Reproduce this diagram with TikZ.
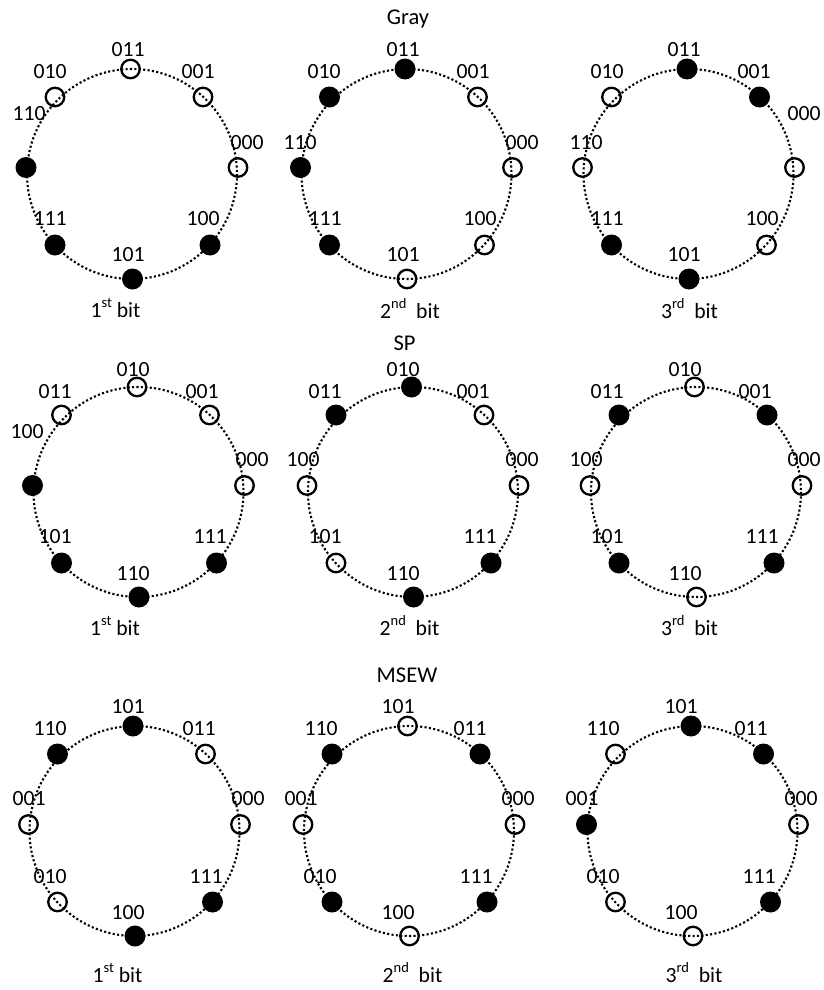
\documentclass[tikz,border=0pt]{standalone}
\usepackage{fontspec}
\setmainfont{Carlito}
\newcommand\sups[1]{\raisebox{0.42em}{\fontsize{14.5}{15}\selectfont #1}}
\tikzset{
  ringline/.style={line width=2.1pt, dash pattern=on 2.1pt off 2.3pt},
  full/.style={circle, fill=black, minimum size=21pt, inner sep=0pt},
  hollow/.style={circle, draw=black, line width=2.3pt, minimum size=18.5pt, inner sep=0pt},
  lab/.style={inner sep=0pt, font=\fontsize{21.7}{26}\selectfont},
  ttl/.style={inner sep=0pt, anchor=base, font=\fontsize{22.5}{27}\selectfont},
  bitlab/.style={inner sep=0pt, anchor=base, font=\fontsize{21.7}{26}\selectfont},
}
\newcommand\wheel[7]{%
  \begin{scope}[shift={(#2,#3)}]
    \draw[ringline] (0,0) circle[radius=105];
    \node[#4] (#1T) at (-1.5,-105) {};
    \node[#5] (#1UR) at (71,-77) {};
    \node[#6] (#1R) at (106,-6.5) {};
    \node[#7] (#1LR) at (78,71) {};
  \end{scope}}
\newcommand\wheelb[6]{%
  \begin{scope}[shift={(#2,#3)}]
    \node[#4] (#1B) at (0.5,105) {};
    \node[#5] (#1LL) at (-77,71) {};
    \node[#6] (#1L) at (-106,-6.5) {};
  \end{scope}}
\newcommand\wheelc[4]{%
  \begin{scope}[shift={(#2,#3)}]
    \node[#4] (#1UL) at (-77,-77) {};
  \end{scope}}
\begin{document}
\begin{tikzpicture}[x=1pt,y=-1pt]
\useasboundingbox (0,0) rectangle (823,990);

% ---------------- Gray ----------------
\node[ttl] (tgray) at (408,25) {Gray};
\wheel{a1}{132}{174}{hollow}{hollow}{hollow}{full}
\wheelb{a1}{132}{174}{full}{full}{full}
\wheelc{a1}{132}{174}{hollow}
\wheel{a2}{406.5}{174}{full}{hollow}{hollow}{hollow}
\wheelb{a2}{406.5}{174}{hollow}{full}{full}
\wheelc{a2}{406.5}{174}{full}
\wheel{a3}{688.5}{174}{full}{full}{hollow}{hollow}
\wheelb{a3}{688.5}{174}{full}{full}{hollow}
\wheelc{a3}{688.5}{174}{hollow}

\node[lab] (a1tT) at (128,50) {011};
\node[lab] (a1tUR) at (198,72) {001};
\node[lab] (a1tR) at (247,143) {000};
\node[lab] (a1tLR) at (203,219) {100};
\node[lab] (a1tB) at (128,255) {101};
\node[lab] (a1tLL) at (50,219) {111};
\node[lab] (a1tL) at (29,114) {110};
\node[lab] (a1tUL) at (50,72) {010};

\node[lab] (a2tT) at (403,50) {011};
\node[lab] (a2tUR) at (473,72) {001};
\node[lab] (a2tR) at (522,143) {000};
\node[lab] (a2tLR) at (480,219) {100};
\node[lab] (a2tB) at (403,255) {101};
\node[lab] (a2tLL) at (325,219) {111};
\node[lab] (a2tL) at (300,143) {110};
\node[lab] (a2tUL) at (324,72) {010};

\node[lab] (a3tT) at (684,50) {011};
\node[lab] (a3tUR) at (754,72) {001};
\node[lab] (a3tR) at (804,114) {000};
\node[lab] (a3tLR) at (762,219) {100};
\node[lab] (a3tB) at (684,255) {101};
\node[lab] (a3tLL) at (607,219) {111};
\node[lab] (a3tL) at (586,143) {110};
\node[lab] (a3tUL) at (607,72) {010};

\node[bitlab] (a1bit) at (115.5,317) {1\sups{st} bit};
\node[bitlab] (a2bit) at (410,318) {2\sups{nd}~~bit};
\node[bitlab] (a3bit) at (689.5,318) {3\sups{rd}~~bit};

% ---------------- SP ----------------
\node[ttl] (tsp) at (404.5,350) {SP};
\wheel{b1}{138.5}{492}{hollow}{hollow}{hollow}{full}
\wheelb{b1}{138.5}{492}{full}{full}{full}
\wheelc{b1}{138.5}{492}{hollow}
\wheel{b2}{413}{492}{full}{hollow}{hollow}{full}
\wheelb{b2}{413}{492}{full}{hollow}{hollow}
\wheelc{b2}{413}{492}{full}
\wheel{b3}{696}{492}{hollow}{full}{hollow}{full}
\wheelb{b3}{696}{492}{hollow}{full}{hollow}
\wheelc{b3}{696}{492}{full}

\node[lab] (b1tT) at (133,370) {010};
\node[lab] (b1tUR) at (202,392) {001};
\node[lab] (b1tR) at (252,460) {000};
\node[lab] (b1tLR) at (210,537) {111};
\node[lab] (b1tB) at (133,574) {110};
\node[lab] (b1tLL) at (55,537) {101};
\node[lab] (b1tL) at (27,432) {100};
\node[lab] (b1tUL) at (55,392) {011};

\node[lab] (b2tT) at (403,370) {010};
\node[lab] (b2tUR) at (473,392) {001};
\node[lab] (b2tR) at (522,460) {000};
\node[lab] (b2tLR) at (480,537) {111};
\node[lab] (b2tB) at (403,574) {110};
\node[lab] (b2tLL) at (325,537) {101};
\node[lab] (b2tL) at (303,460) {100};
\node[lab] (b2tUL) at (325,392) {011};

\node[lab] (b3tT) at (685,370) {010};
\node[lab] (b3tUR) at (755,392) {001};
\node[lab] (b3tR) at (804,460) {000};
\node[lab] (b3tLR) at (762,537) {111};
\node[lab] (b3tB) at (685,574) {110};
\node[lab] (b3tLL) at (607,537) {101};
\node[lab] (b3tL) at (586,460) {100};
\node[lab] (b3tUL) at (607,392) {011};

\node[bitlab] (b1bit) at (115,635) {1\sups{st} bit};
\node[bitlab] (b2bit) at (409.5,635) {2\sups{nd}~~bit};
\node[bitlab] (b3bit) at (689.5,635) {3\sups{rd}~~bit};

% ---------------- MSEW ----------------
\node[ttl] (tmsew) at (407,682) {MSEW};
\wheel{c1}{134.5}{831}{full}{hollow}{hollow}{full}
\wheelb{c1}{134.5}{831}{full}{hollow}{hollow}
\wheelc{c1}{134.5}{831}{full}
\wheel{c2}{409}{831}{hollow}{full}{hollow}{full}
\wheelb{c2}{409}{831}{hollow}{full}{hollow}
\wheelc{c2}{409}{831}{full}
\wheel{c3}{692.5}{831}{full}{full}{hollow}{full}
\wheelb{c3}{692.5}{831}{hollow}{hollow}{full}
\wheelc{c3}{692.5}{831}{hollow}

\node[lab] (c1tT) at (128,707) {101};
\node[lab] (c1tUR) at (199,729) {011};
\node[lab] (c1tR) at (248,799) {000};
\node[lab] (c1tLR) at (206,877) {111};
\node[lab] (c1tB) at (128,913) {100};
\node[lab] (c1tLL) at (50,877) {010};
\node[lab] (c1tL) at (29,799) {001};
\node[lab] (c1tUL) at (50,729) {110};

\node[lab] (c2tT) at (398,707) {101};
\node[lab] (c2tUR) at (470,729) {011};
\node[lab] (c2tR) at (518,799) {000};
\node[lab] (c2tLR) at (476,877) {111};
\node[lab] (c2tB) at (398,913) {100};
\node[lab] (c2tLL) at (320,877) {010};
\node[lab] (c2tL) at (301,799) {001};
\node[lab] (c2tUL) at (321,729) {110};

\node[lab] (c3tT) at (681,707) {101};
\node[lab] (c3tUR) at (751,729) {011};
\node[lab] (c3tR) at (801,799) {000};
\node[lab] (c3tLR) at (759,877) {111};
\node[lab] (c3tB) at (681,913) {100};
\node[lab] (c3tLL) at (603,877) {010};
\node[lab] (c3tL) at (582,799) {001};
\node[lab] (c3tUL) at (603,729) {110};

\node[bitlab] (c1bit) at (117.5,982) {1\sups{st} bit};
\node[bitlab] (c2bit) at (412.5,982) {2\sups{nd}~~bit};
\node[bitlab] (c3bit) at (694,982) {3\sups{rd}~~bit};
\end{tikzpicture}
\end{document}
